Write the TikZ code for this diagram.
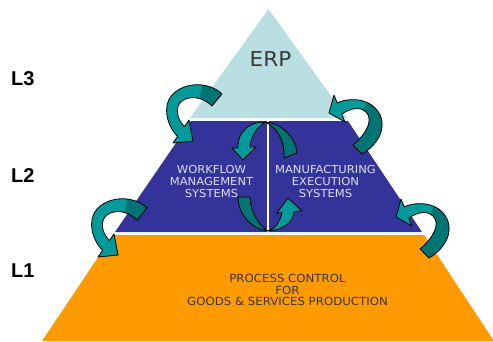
\documentclass[tikz,border=0pt]{standalone}
\usepackage{fontspec}
\setmainfont{DejaVu Sans}
\newfontfamily\pyrfont[FakeStretch=1.05]{DejaVu Sans}
\newfontfamily\lblfont{Liberation Sans}
\definecolor{erpc}{HTML}{BADFE2}
\definecolor{bluec}{HTML}{343399}
\definecolor{orangec}{HTML}{FF9A00}
\definecolor{tealL}{HTML}{009A9A}
\definecolor{tealD}{HTML}{007373}
\definecolor{txtgray}{HTML}{383838}
\definecolor{btxt}{HTML}{DCDCF0}
\tikzset{
  lvl/.style={font=\lblfont\bfseries\fontsize{20}{24}\selectfont, inner sep=0pt, anchor=west},
  bluetext/.style={font=\pyrfont\fontsize{11}{11.7}\selectfont, text=btxt, align=center, inner sep=0pt},
  orangetext/.style={font=\pyrfont\fontsize{11.2}{11.7}\selectfont, text=txtgray, align=center, inner sep=0pt},
  outl/.style={draw=black, line width=0.8pt, line join=round},
  pathA/.style={insert path={(222,94) .. controls (210,82) and (185,81) .. (172,95) .. controls (162,106) and (167,126) .. (177.6,136.4) -- (173,143) -- (193,141) -- (189,120) -- (184.4,126.6) .. controls (176,118) and (175,106) .. (182,101) .. controls (190,95) and (203,97) .. (212,106) -- cycle}},
  pathB/.style={insert path={(337.2,102.9) .. controls (350,97) and (372,98) .. (380,115) .. controls (387,130) and (376,146) .. (362,154) -- (353,145) .. controls (366,134) and (374,120) .. (366,112) .. controls (358,105) and (348,110) .. (341.8,114.1) -- (345,122) -- (329,113) -- (334,95) -- cycle}},
}
\begin{document}
\begin{tikzpicture}[x=1pt,y=-1pt]
\useasboundingbox (0,0) rectangle (493,341);
\begin{scope}
\clip (0,0) rectangle (493,341);
% pyramid levels
\fill[erpc] (268.5,9) -- (347,118) -- (190,118) -- cycle;
\fill[bluec] (191,121) -- (348,121) -- (422,232) -- (115,232) -- cycle;
\fill[orangec] (113,235) -- (424,235) -- (494,341) -- (42,341) -- cycle;
\draw[white, line width=2.2pt] (268,121) -- (268,232);
\end{scope}
% texts
\node[font=\pyrfont\fontsize{20.5}{24}\selectfont, text=txtgray, inner sep=0pt] (erp) at (270.5,59) {ERP};
\node[lvl] (l3) at (11,79) {L3};
\node[lvl] (l2) at (11,175.5) {L2};
\node[lvl] (l1) at (11,271) {L1};
\node[bluetext] (wfm) at (211.5,181.5) {WORKFLOW\\MANAGEMENT\\SYSTEMS};
\node[bluetext] (mes) at (325.5,181.5) {MANUFACTURING\\EXECUTION\\SYSTEMS};
\node[orangetext] (pc) at (287.5,290) {PROCESS CONTROL\\FOR\\GOODS \& SERVICES PRODUCTION};
% curved arrows, left side
\foreach \sx/\sy in {0/0, -75/114}{
\begin{scope}[shift={(\sx,\sy)}]
\fill[tealL, pathA];
\begin{scope}
\clip[pathA];
\fill[tealD] (197,114) -- (205,70) -- (240,70) -- (240,120) -- cycle;
\end{scope}
\draw[outl, pathA];
\end{scope}}
% curved arrows, right side
\foreach \sx/\sy in {0/0, 67/104}{
\begin{scope}[shift={(\sx,\sy)}]
\fill[tealL, pathB];
\begin{scope}
\clip[pathB];
\fill[tealD] (350,130) -- (372,95) -- (400,95) -- (400,170) -- (340,170) -- cycle;
\end{scope}
\draw[outl, pathB];
\end{scope}}
% central arch (top)
\filldraw[outl, fill=tealD] (265,122) .. controls (282,123) and (296,138) .. (297,153) -- (284,158) .. controls (285,142) and (278,128) .. (265,122) -- cycle;
\filldraw[outl, fill=tealL] (265,122) .. controls (250,121) and (237,132) .. (238,148) -- (232,148) -- (243,160) -- (256,147) -- (250,147) .. controls (251,137) and (256,128) .. (265,122) -- cycle;
% central U (bottom)
\filldraw[outl, fill=tealD] (268,231) .. controls (252,229) and (238,215) .. (238,197) -- (250,197) .. controls (251,212) and (258,225) .. (268,231) -- cycle;
\filldraw[outl, fill=tealL] (268,231) .. controls (283,230) and (294,222) .. (294,211.5) -- (301.7,210.7) -- (288,198) -- (276.7,213.3) -- (282,212.5) .. controls (280,222) and (275,229) .. (268,231) -- cycle;
\end{tikzpicture}
\end{document}
